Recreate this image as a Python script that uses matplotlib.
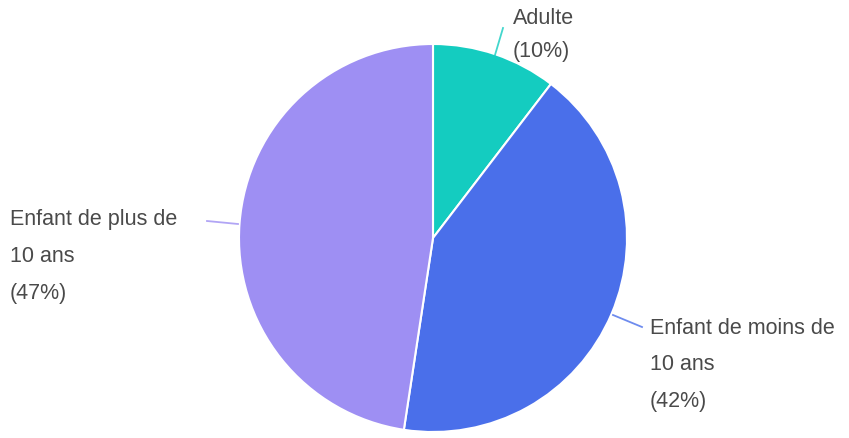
import matplotlib as mpl
import matplotlib.pyplot as plt

mpl.use("Agg")
plt.rcParams["font.family"] = ["Liberation Sans", "DejaVu Sans"]

# slice shares (clockwise from 12 o'clock)
categories = ["Adulte", "Enfant de moins de\n10 ans", "Enfant de plus de\n10 ans"]
shares = [10.4, 42.0, 47.6]
shown_pct = ["10%", "42%", "47%"]
colors = ["#14CCC0", "#4A6FEA", "#9E8FF3"]

fig = plt.figure(figsize=(8.49, 4.38), dpi=100)
ax = fig.add_axes([0, 0, 1, 1])
ax.set_xlim(0, 849)
ax.set_ylim(0, 438)
ax.set_aspect("equal")
ax.axis("off")

cx, cy, r = 433, 200, 194
wedges, _ = ax.pie(shares, colors=colors, startangle=90, counterclock=False,
                   center=(cx, cy), radius=r, frame=True,
                   wedgeprops=dict(edgecolor="white", linewidth=1.5))
ax.set_xlim(0, 849)
ax.set_ylim(0, 438)
ax.axis("off")

# leader lines + labels
lines = [((495, 383), (503, 410)), ((613, 123), (642, 111)), ((238, 214), (207, 217))]
text_pos = [(513, 420, 34), (650, 110, 37), (10, 218, 37)]
for lab, pct, col, (p0, p1), (tx, ty, sp) in zip(categories, shown_pct, colors, lines, text_pos):
    ax.plot([p0[0], p1[0]], [p0[1], p1[1]], color=col, lw=1.3, alpha=0.8)
    for k, line in enumerate((lab + "\n(" + pct + ")").split("\n")):
        ax.text(tx, ty - k * sp, line, fontsize=15.5, color="#4a4a4a",
                ha="left", va="center")

fig.savefig("out.png", dpi=100)
plt.close(fig)
